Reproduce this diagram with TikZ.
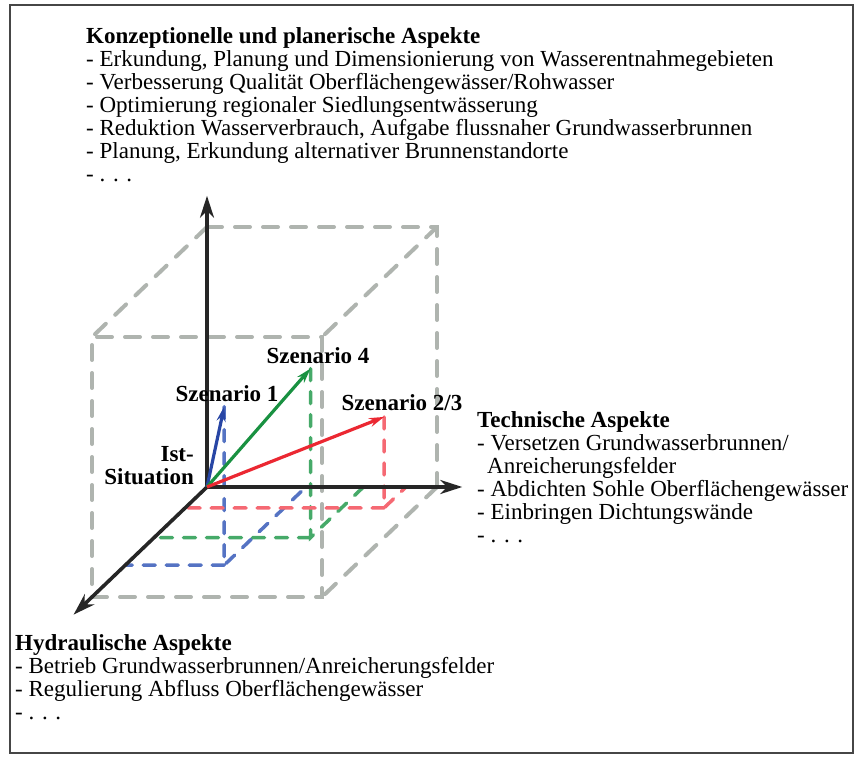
\documentclass[tikz,border=0pt]{standalone}
\usepackage{fontspec}
\setmainfont{Liberation Serif}
\usetikzlibrary{arrows.meta,calc}
\definecolor{szblue}{RGB}{40,70,165}
\definecolor{szgreen}{RGB}{25,145,65}
\definecolor{szred}{RGB}{235,40,50}
\definecolor{szbluel}{RGB}{85,115,195}
\definecolor{szgreenl}{RGB}{70,170,105}
\definecolor{szredl}{RGB}{245,105,115}
\definecolor{cubegray}{RGB}{175,180,175}
\definecolor{framegray}{RGB}{70,70,70}

\begin{document}
\begin{tikzpicture}[x=1pt, y=-1pt, every node/.style={font=\fontsize{23}{23}\selectfont}]
  \tikzset{
    aspekt/.style={align=left, inner sep=0pt, anchor=north west},
    szlabel/.style={font=\fontsize{23}{23}\selectfont\bfseries, inner sep=0pt, anchor=base},
    axis/.style={line width=3.6pt, draw=black!85, -{Stealth[length=22pt,width=14pt,inset=7pt]}},
    szarrow/.style={line width=3.2pt, -{Stealth[length=15pt,width=9pt,inset=5pt]}},
    cubeedge/.style={draw=cubegray, line width=4pt, dash pattern=on 15pt off 13pt, line cap=round},
    projline/.style={line width=3.5pt, dash pattern=on 12pt off 11pt, line cap=round}
  }
  \useasboundingbox (0,0) rectangle (860,757);
  \draw[framegray, line width=1.4pt] (10,5) rectangle (853,753);

  % cube, axes and scenarios in 3d
  \begin{scope}[shift={(207,487)}, x={(230pt,0pt)}, y={(0pt,260pt)}, z={(-115pt,-110pt)}]
    \coordinate (O)   at (0,0,0);
    \coordinate (bx)  at (1,0,0);
    \coordinate (bxy) at (1,1,0);
    \coordinate (by)  at (0,1,0);
    \coordinate (f0)  at (0,0,1);
    \coordinate (fx)  at (1,0,1);
    \coordinate (fxy) at (1,1,1);
    \coordinate (fy)  at (0,1,1);

    \draw[cubeedge] (by) -- (bxy) -- (bx);
    \draw[cubeedge] (f0) -- (fx) -- (fxy) -- (fy) -- cycle;
    \draw[cubeedge] (by) -- (fy);
    \draw[cubeedge] (bxy) -- (fxy);
    \draw[cubeedge] (bx) -- (fx);

    % scenario points with their feet
    \coordinate (s1)   at (0.43,0.61,0.71);
    \coordinate (s1f)  at (0.43,0,0.71);
    \coordinate (s1x)  at (0.43,0,0);
    \coordinate (s1z)  at (0,0,0.71);
    \coordinate (s4)   at (0.68,0.65,0.46);
    \coordinate (s4f)  at (0.68,0,0.46);
    \coordinate (s4x)  at (0.68,0,0);
    \coordinate (s4z)  at (0,0,0.46);
    \coordinate (s23)  at (0.865,0.35,0.19);
    \coordinate (s23f) at (0.865,0,0.19);
    \coordinate (s23x) at (0.865,0,0);
    \coordinate (s23z) at (0,0,0.19);

    \draw[projline, szbluel]  (s1) -- (s1f) -- (s1x)  (s1f) -- (s1z);
    \draw[projline, szgreenl] (s4) -- (s4f) -- (s4x)  (s4f) -- (s4z);
    \draw[projline, szredl]   (s23) -- (s23f) -- (s23x)  (s23f) -- (s23z);

    \coordinate (xtip) at (1.11,0,0);
    \coordinate (ytip) at (0,1.12,0);
    \coordinate (ztip) at (0,0,1.16);
    \draw[axis] (O) -- (ytip);
    \draw[axis] (O) -- (xtip);
    \draw[axis] (O) -- (ztip);

    \draw[szarrow, szblue]  (O) -- (s1);
    \draw[szarrow, szgreen] (O) -- (s4);
    \draw[szarrow, szred]   (O) -- (s23);
  \end{scope}

  \node[szlabel] (lbl1)  at (227,401) {Szenario 1};
  \node[szlabel] (lbl4)  at (318,363) {Szenario 4};
  \node[szlabel] (lbl23) at (402,410) {Szenario 2/3};
  \node[szlabel, align=right, anchor=north east] (ist) at (194,446.5) {Ist-\\Situation};

  \node[aspekt] (konz) at (86,27.4) {\textbf{Konzeptionelle und planerische Aspekte}\\
    - Erkundung, Planung und Dimensionierung von Wasserentnahmegebieten\\
    - Verbesserung Qualität Oberflächengewässer/Rohwasser\\
    - Optimierung regionaler Siedlungsentwässerung\\
    - Reduktion Wasserverbrauch, Aufgabe flussnaher Grundwasserbrunnen\\
    - Planung, Erkundung alternativer Brunnenstandorte\\
    - . . .};
  \node[aspekt] (tech) at (477,411.4) {\textbf{Technische Aspekte}\\
    - Versetzen Grundwasserbrunnen/\\
    \hspace*{10pt}Anreicherungsfelder\\
    - Abdichten Sohle Oberflächengewässer\\
    - Einbringen Dichtungswände\\
    - . . .};
  \node[aspekt] (hydr) at (15,634.4) {\textbf{Hydraulische Aspekte}\\
    - Betrieb Grundwasserbrunnen/Anreicherungsfelder\\
    - Regulierung Abfluss Oberflächengewässer\\
    - . . .};
\end{tikzpicture}
\end{document}
